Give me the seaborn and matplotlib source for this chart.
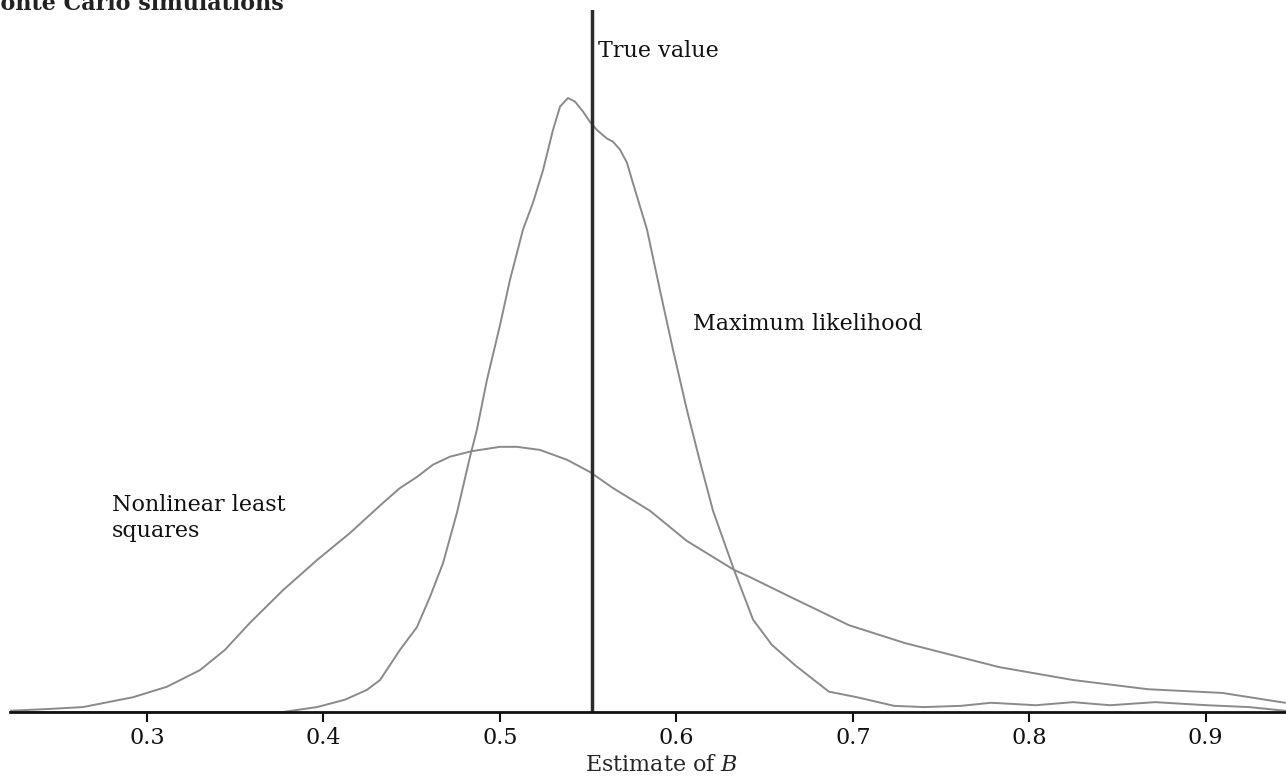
import matplotlib
matplotlib.use("Agg")
import matplotlib.pyplot as plt
import seaborn as sns
import pandas as pd

# density curves (estimate of B, density)
nls_x = [0.2224, 0.2450, 0.2637, 0.2921, 0.3113, 0.3300, 0.3442, 0.3584, 0.3771,
         0.3964, 0.4151, 0.4338, 0.4434, 0.4530, 0.4621, 0.4717, 0.4842, 0.5001,
         0.5097, 0.5227, 0.5380, 0.5511, 0.5641, 0.5851, 0.6060, 0.6327, 0.6412,
         0.6661, 0.6979, 0.7296, 0.7829, 0.8248, 0.8673, 0.9093, 0.9450]
nls_y = [0.02, 0.05, 0.08, 0.24, 0.41, 0.68, 1.01, 1.45, 1.98,
         2.47, 2.91, 3.40, 3.64, 3.82, 4.02, 4.15, 4.24, 4.31,
         4.31, 4.26, 4.10, 3.90, 3.64, 3.27, 2.78, 2.31, 2.20,
         1.85, 1.41, 1.12, 0.73, 0.52, 0.37, 0.31, 0.15]

ml_x = [0.2224, 0.3500, 0.3771, 0.3964, 0.4122, 0.4247, 0.4321, 0.4434, 0.4530,
        0.4604, 0.4678, 0.4757, 0.4831, 0.4870, 0.4927, 0.5001, 0.5057, 0.5131,
        0.5188, 0.5245, 0.5301, 0.5341, 0.5386, 0.5426, 0.5471, 0.5511, 0.5550,
        0.5607, 0.5641, 0.5681, 0.5720, 0.5754, 0.5834, 0.5907, 0.5981, 0.6060,
        0.6134, 0.6208, 0.6327, 0.6435, 0.6542, 0.6673, 0.6865, 0.7024, 0.7234,
        0.7404, 0.7613, 0.7784, 0.8038, 0.8248, 0.8458, 0.8713, 0.9007, 0.9245,
        0.9450]
ml_y = [0.00, 0.00, 0.00, 0.08, 0.20, 0.36, 0.52, 1.01, 1.38,
        1.87, 2.42, 3.24, 4.15, 4.59, 5.40, 6.29, 7.02, 7.84,
        8.28, 8.81, 9.46, 9.84, 9.98, 9.92, 9.76, 9.59, 9.46,
        9.32, 9.27, 9.14, 8.93, 8.60, 7.84, 6.86, 5.89, 4.91,
        4.07, 3.27, 2.31, 1.50, 1.09, 0.76, 0.33, 0.24, 0.10,
        0.08, 0.10, 0.15, 0.11, 0.16, 0.11, 0.16, 0.11, 0.08,
        0.02]

true_value = 0.552
ticks = [0.3, 0.4, 0.5, 0.6, 0.7, 0.8, 0.9]

sns.set_style("white")
plt.rcParams["font.family"] = ["DejaVu Serif"]
plt.rcParams["mathtext.fontset"] = "dejavuserif"

fig = plt.figure(figsize=(12.86, 7.81), dpi=100)
ax = fig.add_axes([10 / 1286, 1 - 712 / 781, 1 - 10 / 1286, 702 / 781])

nls = pd.DataFrame({"x": nls_x, "y": nls_y})
ml = pd.DataFrame({"x": ml_x, "y": ml_y})
sns.lineplot(data=nls, x="x", y="y", ax=ax, color="#8a8a8a", linewidth=1.4, sort=False)
sns.lineplot(data=ml, x="x", y="y", ax=ax, color="#8a8a8a", linewidth=1.4, sort=False)
ax.axvline(true_value, color="#2b2b2b", linewidth=2.5)

ax.set_xlim(0.2224, 0.9455)
ax.set_ylim(0, 11.41)
ax.set_xticks(ticks)
ax.set_xticklabels([str(t) for t in ticks])
ax.set_yticks([])
ax.set_ylabel("")
ax.set_xlabel("Estimate of $B$", fontsize=16)
ax.xaxis.set_label_coords(0.511, -0.060)
ax.tick_params(axis="x", direction="out", length=7, width=1.5, labelsize=16,
               pad=4, colors="#111111", bottom=True)
sns.despine(ax=ax, left=True, top=True, right=True)
ax.spines["bottom"].set_linewidth(2)
ax.spines["bottom"].set_color("#111111")

ax.text(0.5556, 10.74, "True value", fontsize=16, va="center", ha="left", color="#111111")
ax.text(0.6097, 6.3, "Maximum likelihood", fontsize=16, va="center", ha="left",
        color="#111111")
ax.text(0.2800, 3.15, "Nonlinear least\nsquares", fontsize=16, va="center", ha="left",
        linespacing=1.2, color="#111111")

fig.text(-24 / 1286, 1 - 10 / 781, "Monte Carlo simulations", fontsize=16,
         fontweight="bold", va="baseline", ha="left", color="#222222")

fig.savefig("out.png", dpi=100)
